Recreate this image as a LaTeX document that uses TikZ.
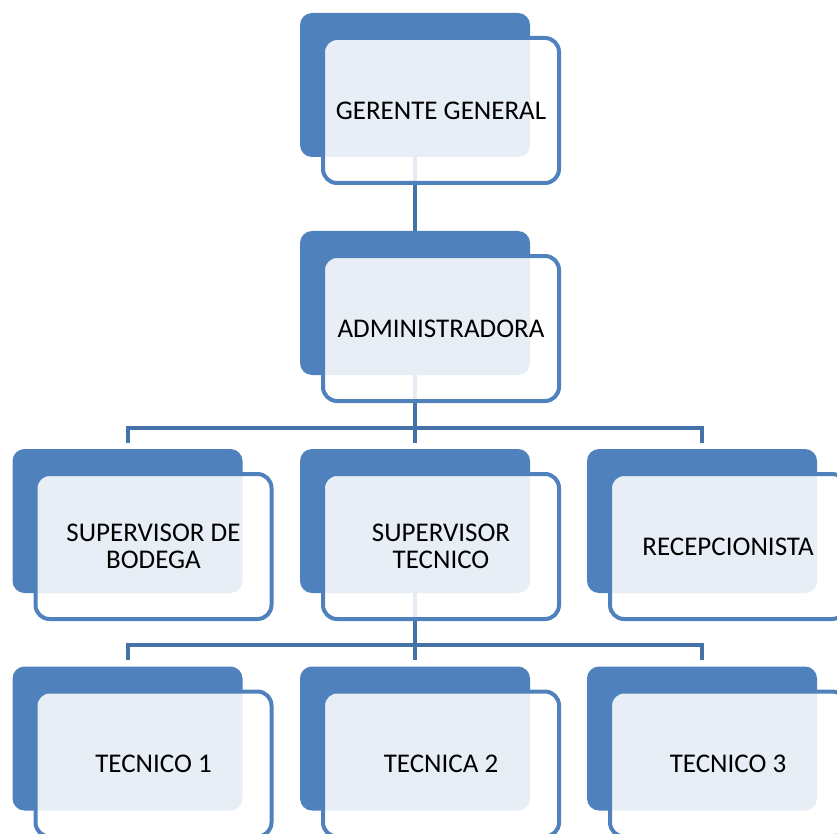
\documentclass[tikz,border=0pt]{standalone}
\usepackage{fontspec}
\setmainfont{Carlito}
\definecolor{accent}{RGB}{79,129,189}
\definecolor{linec}{RGB}{70,114,170}
\begin{document}
\begin{tikzpicture}[x=1pt,y=-1pt,
  backbox/.style={fill=accent, rounded corners=12pt, minimum width=230pt, minimum height=144pt, inner sep=0pt},
  frontbox/.style={fill=white, fill opacity=0.87, text opacity=1, draw=accent, line width=4pt, rounded corners=14pt, minimum width=236pt, minimum height=145pt, align=center, font=\fontsize{27}{27}\selectfont, inner sep=0pt},
  conn/.style={draw=linec, line width=4pt}]
\useasboundingbox (0,0) rectangle (837,834);
\clip (0,0) rectangle (837,834);
% back boxes
\node[backbox] (gg) at (415,85) {};
\node[backbox] (adm) at (415,303) {};
\node[backbox] (sb) at (127.5,521) {};
\node[backbox] (st) at (415,521) {};
\node[backbox] (rc) at (702,521) {};
\node[backbox] (t1) at (127.5,738.5) {};
\node[backbox] (t2) at (415,738.5) {};
\node[backbox] (t3) at (702,738.5) {};
% connectors
\coordinate (j1) at (415,428);
\coordinate (j2) at (415,645);
\draw[conn] (gg.south) -- (adm.north);
\draw[conn] (adm.south) -- (j1);
\draw[conn] ([yshift=6pt]sb.north) |- (j1) -| ([yshift=6pt]rc.north);
\draw[conn] (j1) -- ([yshift=6pt]st.north);
\draw[conn] (st.south) -- (j2);
\draw[conn] ([yshift=6pt]t1.north) |- (j2) -| ([yshift=6pt]t3.north);
\draw[conn] (j2) -- ([yshift=6pt]t2.north);
% front boxes
\node[frontbox] (ggf) at ([shift={(26,25.5)}]gg.center) {GERENTE GENERAL};
\node[frontbox] (admf) at ([shift={(26,25.5)}]adm.center) {ADMINISTRADORA};
\node[frontbox] (sbf) at ([shift={(26,25.5)}]sb.center) {SUPERVISOR DE\\BODEGA};
\node[frontbox] (stf) at ([shift={(26,25.5)}]st.center) {SUPERVISOR\\TECNICO};
\node[frontbox] (rcf) at ([shift={(26,25.5)}]rc.center) {RECEPCIONISTA};
\node[frontbox] (t1f) at ([shift={(26,25.5)}]t1.center) {TECNICO 1};
\node[frontbox] (t2f) at ([shift={(26,25.5)}]t2.center) {TECNICA 2};
\node[frontbox] (t3f) at ([shift={(26,25.5)}]t3.center) {TECNICO 3};
\end{tikzpicture}
\end{document}
